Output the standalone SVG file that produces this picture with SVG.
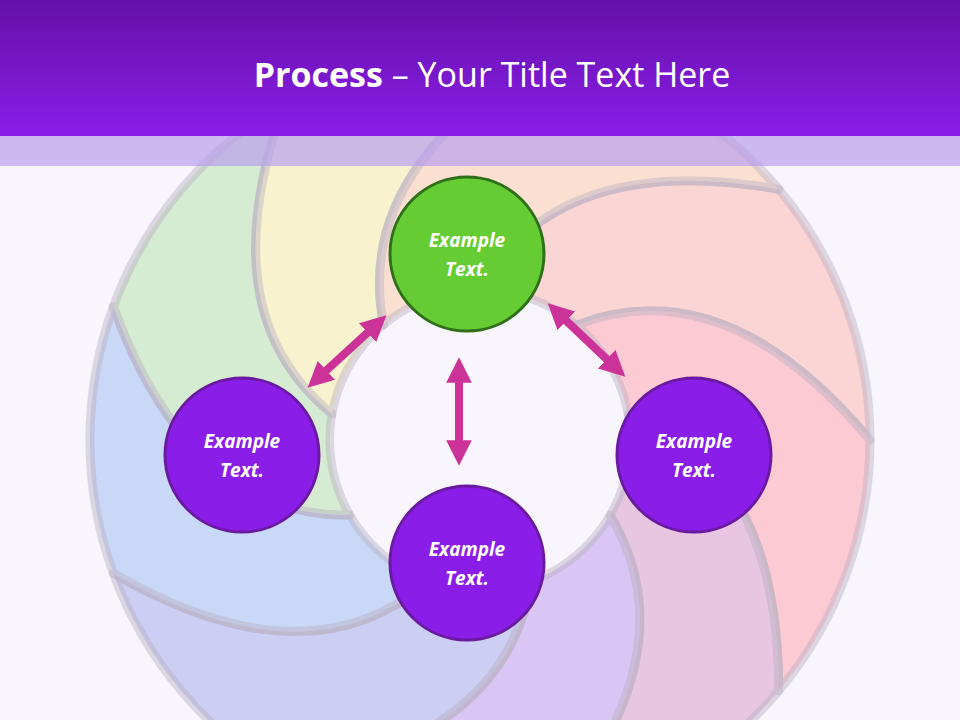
<svg xmlns="http://www.w3.org/2000/svg" width="960" height="720" viewBox="0 0 960 720">
<defs>
<linearGradient id="hdr" x1="0" y1="0" x2="0" y2="1"><stop offset="0" stop-color="#6410a8"/><stop offset="1" stop-color="#8a1ee8"/></linearGradient>
<marker id="ah" viewBox="0 0 10 10" refX="5" refY="5" markerWidth="3.2" markerHeight="3.2" orient="auto-start-reverse"><path d="M0,0 L10,5 L0,10 Z" fill="#cc3399"/></marker>
</defs>
<style>
.blade{stroke:#b8b0c0;stroke-opacity:.45;stroke-width:9;stroke-linejoin:round}
.c{stroke-width:3}
.t{font-family:"Open Sans","Liberation Sans",sans-serif;font-weight:bold;font-style:italic;font-size:19px;fill:#fff;text-anchor:middle}
.arr{stroke:#cc3399;stroke-width:8;marker-start:url(#ah);marker-end:url(#ah)}
</style>
<rect width="960" height="720" fill="#f9f5fd"/>
<g id="shutter">
<path class="blade" fill="#fbd4d4" d="M480,290 Q557.7,150.2 778.7,189.2 A390,390 0 0 1 870,440 Q725.7,267.8 576.4,325.1 A150,150 0 0 0 480,290Z"/>
<path class="blade" fill="#fbcad2" d="M576.4,325.1 Q725.7,267.8 870,440 A390,390 0 0 1 778.7,690.8 Q778.8,466.1 627.8,413.9 A150,150 0 0 0 576.4,325.1Z"/>
<path class="blade" fill="#e8c6e2" d="M627.8,413.9 Q778.8,466.1 778.7,690.8 A390,390 0 0 1 547.9,824.2 Q692.1,652.1 609.9,515 A150,150 0 0 0 627.8,413.9Z"/>
<path class="blade" fill="#dac6f4" d="M609.9,515 Q692.1,652.1 547.9,824.2 A390,390 0 0 1 285,777.7 Q506.1,738.8 531.3,581 A150,150 0 0 0 609.9,515Z"/>
<path class="blade" fill="#cccef4" d="M531.3,581 Q506.1,738.8 285,777.7 A390,390 0 0 1 113.4,573.4 Q307.8,685.7 428.7,581 A150,150 0 0 0 531.3,581Z"/>
<path class="blade" fill="#c8d8f6" d="M428.7,581 Q307.8,685.7 113.4,573.4 A390,390 0 0 1 113.4,306.6 Q190.2,517.7 350.1,515 A150,150 0 0 0 428.7,581Z"/>
<path class="blade" fill="#d6ecd2" d="M350.1,515 Q190.2,517.7 113.4,306.6 A390,390 0 0 1 285,102.3 Q208.2,313.1 332.2,413.9 A150,150 0 0 0 350.1,515Z"/>
<path class="blade" fill="#f9f2cf" d="M332.2,413.9 Q208.2,313.1 285,102.3 A390,390 0 0 1 547.9,55.8 Q353.1,168.2 383.6,325.1 A150,150 0 0 0 332.2,413.9Z"/>
<path class="blade" fill="#fbe0d2" d="M383.6,325.1 Q353.1,168.2 547.9,55.8 A390,390 0 0 1 778.7,189.2 Q557.7,150.2 480,290 A150,150 0 0 0 383.6,325.1Z"/>
<circle cx="480" cy="440" r="146" fill="#f9f5fd"/>
</g>
<g id="header">
<rect width="960" height="136" fill="url(#hdr)"/>
<rect y="136" width="960" height="30" fill="#b9a0ec" fill-opacity=".7"/>
<text x="492" y="87" font-family="'Open Sans','Liberation Sans',sans-serif" font-size="34" fill="#fff" text-anchor="middle"><tspan font-weight="bold">Process</tspan> – Your Title Text Here</text>
</g>
<g id="connectors">
<line class="arr" x1="377" y1="324" x2="317" y2="379"/>
<line class="arr" x1="557" y1="312" x2="616" y2="368"/>
<line class="arr" x1="459" y1="370" x2="459" y2="453"/>
</g>
<g id="n1"><circle class="c" cx="467" cy="254" r="77" fill="#66cc33" stroke="#2f6f1a"/><text class="t" x="467" y="247">Example</text><text class="t" x="467" y="276">Text.</text></g>
<g id="n2"><circle class="c" cx="242" cy="455" r="77" fill="#8a1ee8" stroke="#6a1aa0"/><text class="t" x="242" y="448">Example</text><text class="t" x="242" y="477">Text.</text></g>
<g id="n3"><circle class="c" cx="694" cy="455" r="77" fill="#8a1ee8" stroke="#6a1aa0"/><text class="t" x="694" y="448">Example</text><text class="t" x="694" y="477">Text.</text></g>
<g id="n4"><circle class="c" cx="467" cy="563" r="77" fill="#8a1ee8" stroke="#6a1aa0"/><text class="t" x="467" y="556">Example</text><text class="t" x="467" y="585">Text.</text></g>
</svg>
